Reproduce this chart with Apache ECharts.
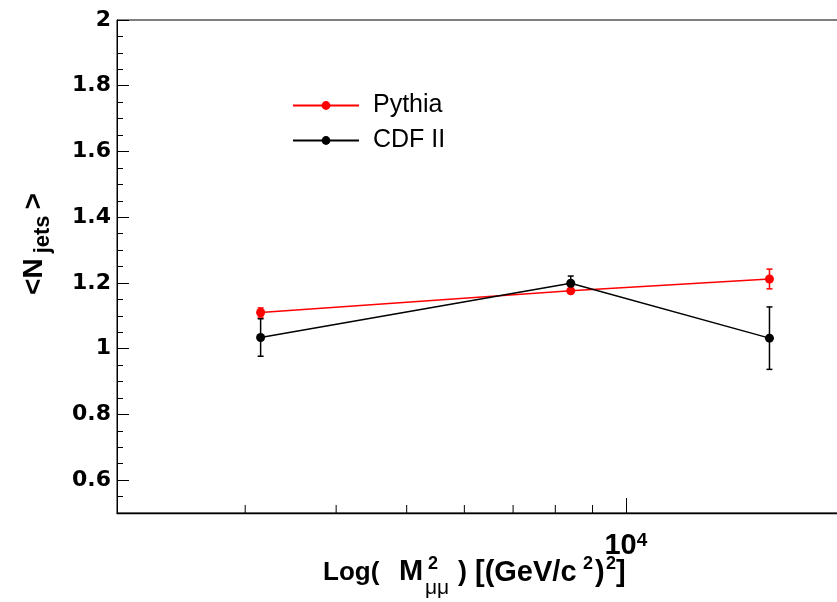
<!DOCTYPE html>
<html><head><meta charset="utf-8">
<script src="https://cdn.jsdelivr.net/npm/echarts@6/dist/echarts.min.js"></script>
<style>html,body{margin:0;padding:0;background:#fff;overflow:hidden;width:837px;height:602px}#c{width:850px;height:602px}</style>
</head><body><div id="c"></div>
<script>
// ---- data ----
const massX = [3150, 8400, 15750];          // M^2_mumu bin centres [(GeV/c^2)^2]
const pythiaY = [1.110, 1.176, 1.212];
const pythiaErr = [0.014, 0.006, 0.030];
const cdfY = [1.034, 1.199, 1.032];
const cdfErr = [0.057, 0.022, 0.095];
const xMinorTicks = [3000, 4000, 5000, 6000, 7000, 8000, 9000];
const seriesNames = ['Pythia', 'CDF II'];

const chart = echarts.init(document.getElementById('c'), null, {renderer: 'canvas'});
const SANS = 'Liberation Sans, Arial, sans-serif';

function pts(ys) { return massX.map((x, i) => [x, ys[i]]); }
function errData(ys, es) { return massX.map((x, i) => [x, ys[i], es[i]]); }
function errRender(color) {
  return function (params, api) {
    const x = api.value(0), y = api.value(1), e = api.value(2);
    const top = api.coord([x, y + e]);
    const bot = api.coord([x, y - e]);
    const cw = 3;
    const st = {stroke: color, lineWidth: 1.5};
    return {type: 'group', children: [
      {type: 'line', shape: {x1: top[0], y1: top[1], x2: bot[0], y2: bot[1]}, style: st},
      {type: 'line', shape: {x1: top[0] - cw, y1: top[1], x2: top[0] + cw, y2: top[1]}, style: st},
      {type: 'line', shape: {x1: bot[0] - cw, y1: bot[1], x2: bot[0] + cw, y2: bot[1]}, style: st}
    ]};
  };
}
function txt(x, baseline, s, font, size) {
  return {type: 'text', x: x, y: baseline - 0.3465 * size, silent: true,
    style: {text: s, font: font + ' ' + size + 'px ' + SANS, fill: '#000', verticalAlign: 'middle', align: 'left'}};
}

const option = {
  animation: false,
  backgroundColor: '#fff',
  grid: [
    {left: 117, top: 20, width: 728, height: 493, show: true, borderColor: '#000', borderWidth: 1, backgroundColor: 'transparent'},
    {left: 117, top: 20, width: 728, height: 460, show: false}
  ],
  legend: {
    data: seriesNames,
    orient: 'vertical', left: 287, top: 88,
    itemWidth: 66, itemHeight: 11, itemGap: 10,
    textStyle: {fontSize: 25, fontFamily: SANS, color: '#000', padding: [0, 0, 0, 9]}
  },
  xAxis: [
    {
      type: 'log', logBase: 10, min: 2000, max: 20000, gridIndex: 0,
      axisLine: {show: true, lineStyle: {color: '#000', width: 1.3}},
      axisTick: {show: true, inside: true, length: 15, lineStyle: {color: '#000', width: 1}},
      splitLine: {show: false}, minorTick: {show: false},
      axisLabel: {
        show: true, margin: 18, showMinLabel: false, showMaxLabel: false,
        formatter: v => (Math.abs(v - 10000) < 1 ? '{a|10}{b|4}' : ''),
        rich: {
          a: {fontSize: 29, fontWeight: 'bold', fontFamily: SANS, color: '#000', lineHeight: 29},
          b: {fontSize: 19, fontWeight: 'bold', fontFamily: SANS, color: '#000', lineHeight: 19, verticalAlign: 'top'}
        }
      }
    },
    {type: 'value', gridIndex: 1, show: false, min: 0, max: 1}
  ],
  yAxis: [
    {
      type: 'value', gridIndex: 0, min: 0.5, max: 2, interval: 0.05,
      axisLine: {show: true, lineStyle: {color: '#000', width: 1}},
      axisTick: {show: true, inside: true, length: 6, lineStyle: {color: '#000', width: 1}},
      axisLabel: {show: false}, splitLine: {show: false}
    },
    {
      type: 'value', gridIndex: 1, min: 0.6, max: 2, interval: 0.2,
      axisLine: {show: false},
      axisTick: {show: true, inside: true, length: 12, lineStyle: {color: '#000', width: 1}},
      axisLabel: {show: true, showMaxLabel: true, showMinLabel: true, hideOverlap: false,
        margin: 6, fontSize: 22, fontWeight: 'bold', fontFamily: 'DejaVu Sans', color: '#000'},
      splitLine: {show: false},
      name: '{n|<N}{s|jets}{n|>}',
      nameLocation: 'middle', nameRotate: 90, nameGap: 63,
      nameTextStyle: {
        padding: [0, 0, 0, 12],
        rich: {
          n: {fontSize: 28, fontWeight: 'bold', fontFamily: SANS, color: '#000', lineHeight: 40},
          s: {fontSize: 22, fontWeight: 'bold', fontFamily: SANS, color: '#000', lineHeight: 22, verticalAlign: 'bottom', padding: [0, 6, 0, 5]}
        }
      }
    }
  ],
  graphic: [
    txt(323, 582, 'Log(', 'bold', 26),
    txt(399, 582, 'M', 'bold', 29),
    txt(428, 570, '2', 'bold', 18),
    txt(425, 595, 'μμ', 'normal', 21),
    txt(458, 582, ')', 'bold', 27),
    txt(475, 583, '[(GeV/c', 'bold', 29),
    txt(583, 570, '2', 'bold', 18),
    txt(595, 583, ')', 'bold', 29),
    txt(606, 570, '2', 'bold', 18),
    txt(616, 583, ']', 'bold', 29)
  ],
  series: [
    {
      name: 'xMinorTicks', type: 'custom', xAxisIndex: 0, yAxisIndex: 0, silent: true, z: 1,
      data: xMinorTicks.map(v => [v, 0.5]),
      renderItem: function (params, api) {
        const p = api.coord([api.value(0), api.value(1)]);
        return {type: 'line', shape: {x1: p[0], y1: p[1], x2: p[0], y2: p[1] - 8}, style: {stroke: '#000', lineWidth: 1}};
      }
    },
    {
      name: 'Pythia err', type: 'custom', xAxisIndex: 0, yAxisIndex: 0, silent: true, z: 3,
      data: errData(pythiaY, pythiaErr), renderItem: errRender('#ff0000')
    },
    {
      name: 'CDF II err', type: 'custom', xAxisIndex: 0, yAxisIndex: 0, silent: true, z: 4,
      data: errData(cdfY, cdfErr), renderItem: errRender('#000')
    },
    {
      name: 'Pythia', type: 'line', xAxisIndex: 0, yAxisIndex: 0, z: 5,
      data: pts(pythiaY), color: '#ff0000',
      symbol: 'circle', symbolSize: 9, showSymbol: true,
      lineStyle: {color: '#ff0000', width: 1.5}, itemStyle: {color: '#ff0000'}
    },
    {
      name: 'CDF II', type: 'line', xAxisIndex: 0, yAxisIndex: 0, z: 6,
      data: pts(cdfY), color: '#000',
      symbol: 'circle', symbolSize: 9, showSymbol: true,
      lineStyle: {color: '#000', width: 1.5}, itemStyle: {color: '#000'}
    }
  ]
};
chart.setOption(option);
</script>
</body></html>
